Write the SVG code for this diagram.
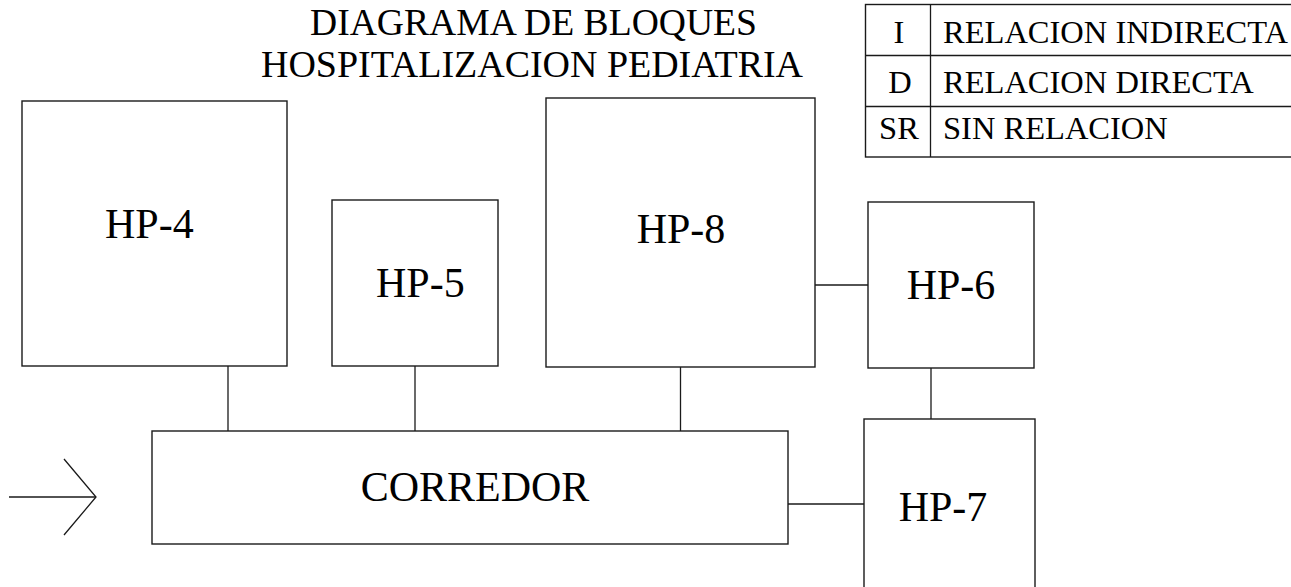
<svg xmlns="http://www.w3.org/2000/svg" width="1291" height="587" viewBox="0 0 1291 587">
<style>
.box{fill:#fff;stroke:#1a1a1a;stroke-width:1.4}
.ln{stroke:#1a1a1a;stroke-width:1.3;fill:none}
.lbl{font-family:"Liberation Serif","Times New Roman",serif;font-size:42px;fill:#000}
.ttl{font-family:"Liberation Serif","Times New Roman",serif;font-size:38px;fill:#000}
.leg{font-family:"Liberation Serif","Times New Roman",serif;font-size:32.5px;fill:#000}
</style>
<rect width="1291" height="587" fill="#fff"/>
<g id="title">
<text class="ttl" x="310" y="35" textLength="447" lengthAdjust="spacingAndGlyphs">DIAGRAMA DE BLOQUES</text>
<text class="ttl" x="261" y="77" textLength="542" lengthAdjust="spacingAndGlyphs">HOSPITALIZACION PEDIATRIA</text>
</g>
<g id="legend">
<rect class="box" x="865.5" y="4.5" width="430" height="152.5"/>
<line class="ln" x1="865" y1="55.5" x2="1291" y2="55.5"/>
<line class="ln" x1="865" y1="106.5" x2="1291" y2="106.5"/>
<line class="ln" x1="930.5" y1="4" x2="930.5" y2="157"/>
<text class="leg" x="899" y="43" text-anchor="middle">I</text>
<text class="leg" x="943" y="43">RELACION INDIRECTA</text>
<text class="leg" x="900" y="93" text-anchor="middle">D</text>
<text class="leg" x="943" y="93">RELACION DIRECTA</text>
<text class="leg" x="899" y="139" text-anchor="middle">SR</text>
<text class="leg" x="943" y="139">SIN RELACION</text>
</g>
<g id="connectors">
<line class="ln" x1="228" y1="366" x2="228" y2="431"/>
<line class="ln" x1="415" y1="366" x2="415" y2="431"/>
<line class="ln" x1="680.5" y1="367" x2="680.5" y2="431"/>
<line class="ln" x1="815" y1="285" x2="868" y2="285"/>
<line class="ln" x1="931" y1="368" x2="931" y2="419"/>
<line class="ln" x1="788" y1="504" x2="864" y2="504"/>
<line class="ln" x1="9" y1="497" x2="96" y2="497"/>
<polyline class="ln" points="64,459 96,497 64,535"/>
</g>
<g id="hp4">
<rect class="box" x="22" y="101" width="265" height="265"/>
<text class="lbl" x="105" y="238">HP-4</text>
</g>
<g id="hp5">
<rect class="box" x="332" y="200" width="166" height="166"/>
<text class="lbl" x="376" y="297">HP-5</text>
</g>
<g id="hp8">
<rect class="box" x="546" y="98" width="269" height="269"/>
<text class="lbl" x="681" y="243" text-anchor="middle">HP-8</text>
</g>
<g id="hp6">
<rect class="box" x="868" y="202" width="166" height="166"/>
<text class="lbl" x="951" y="299" text-anchor="middle">HP-6</text>
</g>
<g id="corredor">
<rect class="box" x="152" y="431" width="636" height="113"/>
<text class="lbl" x="475" y="501" text-anchor="middle">CORREDOR</text>
</g>
<g id="hp7">
<rect class="box" x="864" y="419" width="171" height="190"/>
<text class="lbl" x="943" y="521" text-anchor="middle">HP-7</text>
</g>
</svg>
